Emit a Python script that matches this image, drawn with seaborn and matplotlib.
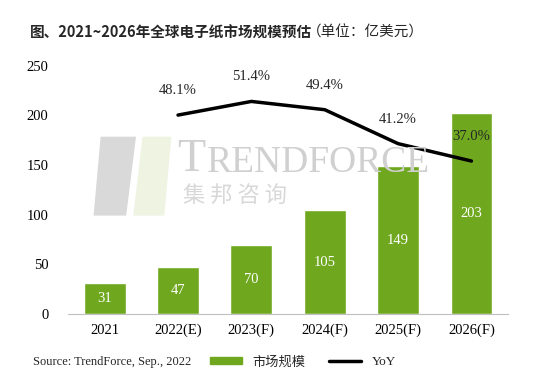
import matplotlib
matplotlib.use('Agg')
import matplotlib.pyplot as plt
import matplotlib.patches as mpatches
from matplotlib.lines import Line2D
import seaborn as sns
import pandas as pd

years = ['2021', '2022(E)', '2023(F)', '2024(F)', '2025(F)', '2026(F)']
market = [31, 47, 70, 105, 149, 203]
yoy_years = ['2022(E)', '2023(F)', '2024(F)', '2025(F)', '2026(F)']
yoy = [48.1, 51.4, 49.4, 41.2, 37.0]

GREEN = '#6fa81f'
SERIF = ['Liberation Serif', 'DejaVu Serif']
CJK = ['Noto Sans CJK SC', 'DejaVu Sans']

sns.set_style('white')
plt.rcParams['font.family'] = SERIF

df = pd.DataFrame({'year': years, 'value': market})

fig = plt.figure(figsize=(5.44, 3.85), dpi=100)
ax = fig.add_axes([0.125, 0.184, 0.809, 0.645])

# watermark (TrendForce logo)
fig.patches.append(mpatches.Polygon([[0.185, 0.645], [0.25, 0.645], [0.232, 0.44], [0.172, 0.44]],
                                    closed=True, transform=fig.transFigure,
                                    facecolor='#d9d9d9', edgecolor='none', zorder=0))
fig.patches.append(mpatches.Polygon([[0.262, 0.645], [0.315, 0.645], [0.302, 0.44], [0.245, 0.44]],
                                    closed=True, transform=fig.transFigure,
                                    facecolor='#eef3e2', edgecolor='none', zorder=0))
fig.text(0.325, 0.585, 'T', fontsize=33, color='#d0d0d0', family=SERIF, va='center', zorder=0)
fig.text(0.38, 0.578, 'RENDFORCE', fontsize=27, color='#d0d0d0', family=SERIF, va='center', zorder=0)
fig.text(0.337, 0.49, '集 邦 咨 询', fontsize=16, color='#d8d8d8', family=CJK, va='center', zorder=0)
ax.set_facecolor('none')

sns.barplot(data=df, x='year', y='value', color=GREEN, width=0.57, saturation=1, ax=ax, zorder=2)
for i, v in enumerate(market):
    ax.text(i, v / 2, str(v), ha='center', va='center', color='white', fontsize=10.5, family=SERIF, zorder=3)

ax.set_ylim(0, 250)
ax.set_xlim(-0.5, 5.5)
ax.set_yticks(range(0, 251, 50))
ax.set_xlabel('')
ax.set_ylabel('')
ax.tick_params(axis='both', labelsize=10.5, colors='black', length=0)
ax.tick_params(axis='y', pad=14)
ax.tick_params(axis='x', pad=7)
for s in ['top', 'right', 'left']:
    ax.spines[s].set_visible(False)
ax.spines['bottom'].set_color('#bfbfbf')

ax2 = ax.twinx()
xpos = [years.index(y) for y in yoy_years]
sns.lineplot(x=xpos, y=yoy, color='black', linewidth=2.5, ax=ax2, zorder=4)
ax2.set_ylim(0, 60)
ax2.set_xlim(-0.5, 5.5)
ax2.axis('off')
for x, v in zip(xpos, yoy):
    ax2.annotate(f'{v:.1f}%', (x, v), xytext=(0, 13), textcoords='offset points',
                 ha='center', va='bottom', fontsize=10.5, family=SERIF)

fig.text(0.055, 0.915, '图、2021~2026年全球电子纸市场规模预估', fontsize=10.5, fontweight='bold',
         family=CJK, va='center')
fig.text(0.565, 0.915, '（单位：亿美元）', fontsize=10.5, family=CJK, va='center')

fig.text(0.06, 0.06, 'Source: TrendForce, Sep., 2022', fontsize=9, family=SERIF, va='center')
handles = [mpatches.Patch(color=GREEN, label='市场规模'),
           Line2D([0], [0], color='black', linewidth=2.5, label='YoY')]
leg = fig.legend(handles=handles, loc='center left', bbox_to_anchor=(0.365, 0.06), ncol=2,
                 frameon=False, handlelength=2.4, handleheight=0.5, columnspacing=1.8,
                 prop={'family': CJK + SERIF, 'size': 9.5})
leg.get_texts()[1].set_family(SERIF)

fig.savefig('out.png', dpi=100)
